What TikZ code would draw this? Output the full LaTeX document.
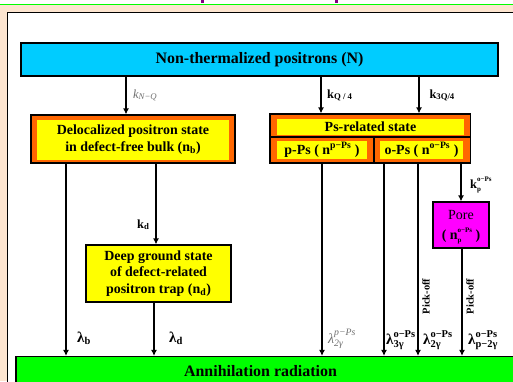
\documentclass[tikz,border=0pt]{standalone}
\usepackage{fontspec}
\setmainfont{Liberation Serif}
\usepackage{amsmath}
\usetikzlibrary{arrows.meta}
\definecolor{cyanbox}{HTML}{00CCFF}
\definecolor{orangebox}{HTML}{FF6600}
\definecolor{yellowbox}{HTML}{FFFF00}
\definecolor{magbox}{HTML}{FF00FF}
\definecolor{greenbox}{HTML}{00FF00}
\definecolor{peach}{HTML}{FDE5D0}
\definecolor{titlepurple}{HTML}{800080}
\definecolor{labgray}{HTML}{6E6E6E}
\newcommand\mySupSub[2]{%
  \setbox0\hbox{\fontsize{7}{8}\selectfont #1}%
  \setbox2\hbox{\fontsize{7}{8}\selectfont #2}%
  \dimen0=\wd0 \ifdim\wd2>\dimen0 \dimen0=\wd2 \fi
  \makebox[\dimen0][l]{\rlap{\raisebox{6.6bp}{\copy0}}\raisebox{-3.4bp}{\copy2}}}
\begin{document}
\begin{tikzpicture}[x=1bp,y=-1bp,
 box/.style={draw=black, line width=1.2bp, inner sep=0pt, align=center, font=\fontsize{14}{16.5}\selectfont\bfseries},
 inbox/.style={fill=yellowbox, inner sep=0pt, align=center, font=\fontsize{14}{16.5}\selectfont\bfseries},
 arr/.style={line width=1.6bp, -{Latex[length=6bp,width=6bp]}},
 sep/.style={line width=1.2bp},
 lab/.style={inner sep=0pt, anchor=base west, font=\fontsize{12.5}{13}\selectfont\bfseries},
 lamlab/.style={inner sep=0pt, anchor=base west, font=\fontsize{15}{16}\selectfont\bfseries},
 glab/.style={inner sep=0pt, anchor=base west, font=\fontsize{12.5}{13}\selectfont\itshape, text=labgray},
 pick/.style={inner sep=0pt, rotate=90, font=\fontsize{10.5}{12}\selectfont\bfseries}
]
\useasboundingbox (0,0) rectangle (513,381);
% slide background
\begin{scope}
\clip (0,0) rectangle (513,381);
\fill[white] (0,0) rectangle (513,381);
\fill[peach] (0,4.5) rectangle (513,381);
\draw[greenbox, line width=1bp] (0,4) -- (513,4);
\fill[titlepurple] (200.5,0) rectangle (204,3.2);
\fill[titlepurple] (334.5,0) rectangle (338,3.2);
\draw[fill=white, line width=1.3bp] (7.3,12.7) rectangle (530,400);
\end{scope}

% boxes
\node[box, fill=cyanbox, minimum width=477bp, minimum height=33bp,
      font=\fontsize{16}{18}\selectfont\bfseries] (N) at (259.5,59.5) {Non-thermalized positrons (N)};

\node[box, fill=orangebox, minimum width=204bp, minimum height=48bp] (D) at (133,139) {};
\node[inbox, minimum width=191bp, minimum height=39.5bp] (Din) at (133,139.75)
  {Delocalized positron state\\in defect-free bulk (n\textsubscript{b})};

\node[box, fill=orangebox, minimum width=200.5bp, minimum height=49bp] (P) at (370.25,138.5) {};
\node[inbox, minimum width=187bp, minimum height=16bp] (Ptop) at (370.5,127) {Ps-related state};
\coordinate (div) at (0,137);
\coordinate (vdiv) at (374,0);
\draw[sep] (P.west |- div) -- (P.east |- div);
\draw[sep] (div -| vdiv) -- (P.south -| vdiv);
\node[inbox, minimum width=90bp, minimum height=17.5bp] (pPs) at (322,149.75) {p-Ps ( n\textsuperscript{p−Ps} )};
\node[inbox, minimum width=83bp, minimum height=17.5bp] (oPs) at (421.5,149.75) {o-Ps ( n\textsuperscript{o−Ps} )};

\node[box, fill=yellowbox, minimum width=145bp, minimum height=57bp] (G) at (158.5,273.5)
  {Deep ground state\\of defect-related\\positron trap (n\textsubscript{d})};

\node[box, fill=magbox, minimum width=56bp, minimum height=46bp] (Pore) at (461,225) {};
\node[inner sep=0pt, font=\fontsize{14}{16}\selectfont] (poreT) at (461,215) {Pore};
\node[inner sep=0pt, anchor=base, font=\fontsize{14}{16}\selectfont\bfseries] (poreN) at (461,239)
  {( n\mySupSub{o−Ps}{p} )};

\node[draw=black, line width=1.2bp, fill=greenbox, minimum width=524bp, minimum height=44bp, inner sep=0pt] (A) at (278,378.5) {};
\node[inner sep=0pt, font=\fontsize{16}{18}\selectfont\bfseries] (Atext) at (260.5,371) {Annihilation radiation};

% connectors
\coordinate (xa) at (126,0);
\coordinate (xb) at (321,0);
\coordinate (xc) at (419,0);
\coordinate (xd) at (66,0);
\coordinate (xe) at (156,0);
\coordinate (xf) at (154,0);
\coordinate (xg) at (322,0);
\coordinate (xh) at (384,0);
\coordinate (xi) at (418,0);
\coordinate (xj) at (461,0);
\coordinate (xk) at (462,0);
\draw[arr] (N.south -| xa) -- (D.north -| xa);
\draw[arr] (N.south -| xb) -- (P.north -| xb);
\draw[arr] (N.south -| xc) -- (P.north -| xc);
\draw[arr] (D.south -| xd) -- (A.north -| xd);
\draw[arr] (D.south -| xe) -- (G.north -| xe);
\draw[arr] (G.south -| xf) -- (A.north -| xf);
\draw[arr] (P.south -| xg) -- (A.north -| xg);
\draw[arr] (P.south -| xh) -- (A.north -| xh);
\draw[arr] (P.south -| xi) -- (A.north -| xi);
\draw[arr] (P.south -| xj) -- (Pore.north -| xj);
\draw[arr] (Pore.south -| xk) -- (A.north -| xk);

% labels
\node[glab] (lNQ) at (133,98) {k\textsubscript{N−Q}};
\node[lab] (lQ4) at (327,98) {k\textsubscript{Q / 4}};
\node[lab] (l3Q4) at (429.3,98) {k\textsubscript{3Q/4}};
\node[lab] (lkd) at (137,228) {k\textsubscript{d}};
\node[lab] (lkp) at (470,188) {k\mySupSub{o−Ps}{p}};
\node[lamlab] (lb) at (77,342) {λ\textsubscript{b}};
\node[lamlab] (ld) at (169,342) {λ\textsubscript{d}};
\node[glab, font=\fontsize{14}{15}\selectfont\itshape] (lp2) at (328,343) {$\text{λ}^{\text{p−Ps}}_{\text{2γ}}$};
\node[lamlab] (l3) at (386,344) {$\text{λ}^{\text{o−Ps}}_{\text{3γ}}$};
\node[lamlab] (l2) at (423,344) {$\text{λ}^{\text{o−Ps}}_{\text{2γ}}$};
\node[lamlab] (lp) at (468,344) {$\text{λ}^{\text{o−Ps}}_{\text{p−2γ}}$};
\node[pick] (pk1) at (426,296.5) {Pick-off};
\node[pick] (pk2) at (470,296.5) {Pick-off};
\end{tikzpicture}
\end{document}
